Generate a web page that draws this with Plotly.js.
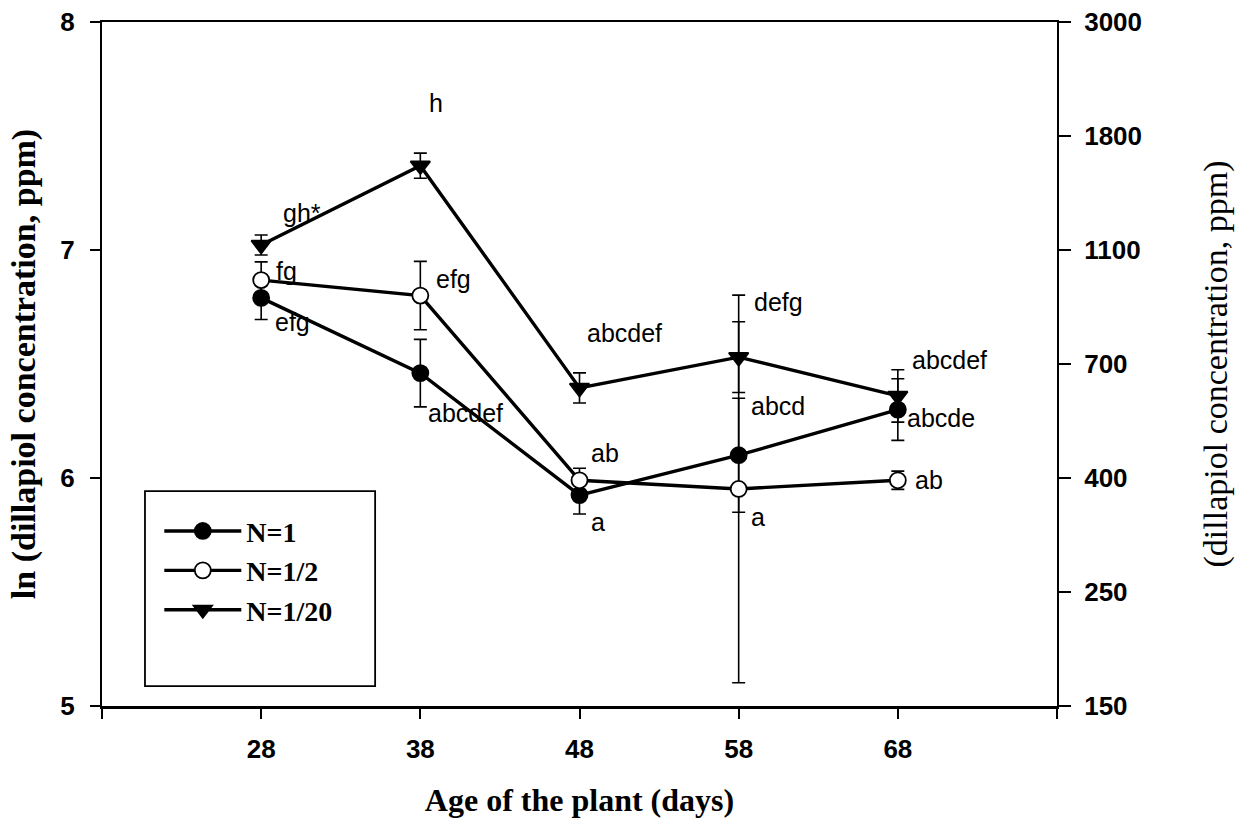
<!DOCTYPE html>
<html>
<head>
<meta charset="utf-8">
<script src="https://cdn.plot.ly/plotly-3.0.1.min.js"></script>
<style>
  html, body { margin: 0; padding: 0; background: #ffffff; }
  #chart { width: 1236px; height: 822px; }
</style>
</head>
<body>
<div id="chart"></div>
<script>
// Age of the plant (days)
const days = [28, 38, 48, 58, 68];

// ln of dillapiol concentration (ppm) with standard errors, per nitrogen level
const n1Mean = [6.79, 6.46, 5.925, 6.10, 6.30];
const n1Err = [0.095, 0.148, 0.083, 0.25, 0.135];

const nHalfMean = [6.868, 6.80, 5.99, 5.952, 5.99];
const nHalfErr = [0.08, 0.15, 0.053, 0.85, 0.04];

const nTwentiethMean = [7.022, 7.37, 6.395, 6.53, 6.36];
const nTwentiethErr = [0.044, 0.055, 0.066, 0.155, 0.115];

// Significance letters for each point
const n1Letters = ['efg', 'abcdef', 'a', 'abcd', 'abcde'];
const nHalfLetters = ['fg', 'efg', 'ab', 'a', 'ab'];
const nTwentiethLetters = ['gh*', 'h', 'abcdef', 'defg', 'abcdef'];

// Secondary axis: concentration in ppm at ln positions
const ppmTickPos = [5, 5.5, 6, 6.5, 7, 7.5, 8];
const ppmTickText = ['150', '250', '400', '700', '1100', '1800', '3000'];

// Day axis ticks
const dayTickVals = [18, 28, 38, 48, 58, 68, 78];
const dayTickText = ['', '28', '38', '48', '58', '68', ''];

// Pixel offsets (right, down) of each letter from its point
const n1Offsets = [[12, 24], [6, 40], [9, 27], [10, -49], [7, 8]];
const nHalfOffsets = [[13, -9], [14, -17], [9, -27], [10, 28], [15, 0]];
const nTwentiethOffsets = [[20, -32], [7, -63], [5, -55], [13, -55], [12, -36]];

const SANS = 'Arial, "Liberation Sans", Helvetica, sans-serif';
const SERIF = '"Times New Roman", "Liberation Serif", Times, serif';

function series(name, y, err, symbol, fill) {
  return {
    type: 'scatter',
    mode: 'lines+markers',
    name: name,
    x: days,
    y: y,
    error_y: { type: 'data', array: err, visible: true, color: '#000', thickness: 1.6, width: 6.5 },
    line: { color: '#000', width: 3.4 },
    marker: { symbol: symbol, size: symbol === 'triangle-down' ? 17 : 16, color: fill,
              line: { color: '#000', width: 1.8 } },
    hoverinfo: 'x+y'
  };
}

const traces = [
  series('N=1', n1Mean, n1Err, 'circle', '#000'),
  series('N=1/2', nHalfMean, nHalfErr, 'circle', '#fff'),
  series('N=1/20', nTwentiethMean, nTwentiethErr, 'triangle-down', '#000')
];

function letterAnnotations(y, letters, offsets) {
  return letters.map((t, i) => ({
    x: days[i], y: y[i], xref: 'x', yref: 'y',
    text: t, showarrow: false,
    xanchor: 'left', yanchor: 'middle',
    xshift: offsets[i][0], yshift: -offsets[i][1],
    font: { family: SANS, size: 25, color: '#000' }
  }));
}

const annotations = []
  .concat(letterAnnotations(n1Mean, n1Letters, n1Offsets))
  .concat(letterAnnotations(nHalfMean, nHalfLetters, nHalfOffsets))
  .concat(letterAnnotations(nTwentiethMean, nTwentiethLetters, nTwentiethOffsets));

const tickFont = { family: SANS, size: 26, color: '#000', weight: 'bold' };

const layout = {
  width: 1236,
  height: 822,
  paper_bgcolor: '#fff',
  plot_bgcolor: '#fff',
  margin: { l: 102, r: 179, t: 22, b: 116 },
  showlegend: true,
  legend: {
    x: 0.06, y: 0.292, xanchor: 'left', yanchor: 'top',
    bgcolor: 'rgba(0,0,0,0)', borderwidth: 0,
    itemwidth: 77,
    font: { family: SERIF, size: 28, color: '#000', weight: 'bold' }
  },
  shapes: [{
    type: 'rect', xref: 'paper', yref: 'paper',
    x0: 0.045, x1: 0.286, y0: 0.029, y1: 0.314,
    line: { color: '#000', width: 1.8 }, fillcolor: 'rgba(0,0,0,0)', layer: 'below'
  }],
  xaxis: {
    range: [18, 78],
    tickmode: 'array', tickvals: dayTickVals, ticktext: dayTickText,
    ticks: 'outside', ticklen: 10, tickwidth: 2, tickcolor: '#000',
    showline: true, linecolor: '#000', linewidth: 2.5, mirror: true,
    showgrid: false, zeroline: false,
    ticklabelstandoff: 8,
    tickfont: tickFont,
    title: { text: 'Age of the plant (days)', standoff: 26,
             font: { family: SERIF, size: 32, color: '#000', weight: 'bold' } }
  },
  yaxis: {
    range: [5, 8], dtick: 1, tick0: 5,
    ticks: 'outside', ticklen: 10, tickwidth: 2, tickcolor: '#000',
    showline: true, linecolor: '#000', linewidth: 2,
    showgrid: false, zeroline: false,
    ticklabelstandoff: 10,
    tickfont: tickFont,
    title: { text: 'ln (dillapiol concentration, ppm)', standoff: 14,
             font: { family: SERIF, size: 34, color: '#000', weight: 'bold' } }
  },
  yaxis2: {
    overlaying: 'y', side: 'right', anchor: 'x',
    range: [5, 8],
    tickmode: 'array', tickvals: ppmTickPos, ticktext: ppmTickText,
    ticks: 'outside', ticklen: 12, tickwidth: 2, tickcolor: '#000',
    showline: true, linecolor: '#000', linewidth: 2,
    showgrid: false, zeroline: false,
    ticklabelstandoff: 8,
    tickfont: tickFont,
    title: { text: '(dillapiol concentration, ppm)', standoff: 62,
             font: { family: SERIF, size: 34, color: '#000' } }
  },
  annotations: annotations
};

// keep the right axis active with an empty trace bound to it
traces.push({ type: 'scatter', x: [], y: [], yaxis: 'y2', showlegend: false, hoverinfo: 'skip' });

Plotly.newPlot('chart', traces, layout, { displayModeBar: false, staticPlot: true });
</script>
</body>
</html>
